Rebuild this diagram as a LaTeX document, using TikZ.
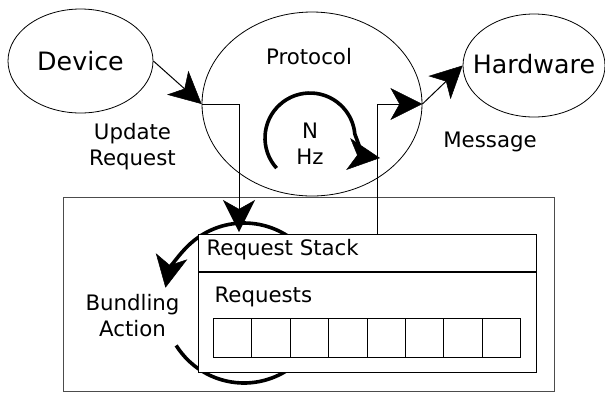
\documentclass[tikz,border=0pt]{standalone}
\usepackage{fontspec}
\setmainfont{DejaVu Sans}
\usetikzlibrary{arrows.meta,shapes.geometric,calc}
\tikzset{
  bubble/.style={draw, ellipse, line width=0.8pt, inner sep=0pt},
  bigfont/.style={font=\fontsize{25.3}{30}\selectfont},
  smallfont/.style={font=\fontsize{21.3}{26}\selectfont, align=center},
  thinline/.style={line width=1pt},
  bigtip/.style={-{Stealth[length=32pt, width=32pt, inset=9pt, line width=0.5pt]}},
  thickarc/.style={line width=3.6pt},
  boxframe/.style={draw, line width=1.2pt, inner sep=0pt},
  cellbox/.style={draw, line width=1pt, minimum width=38.4pt, minimum height=39pt, inner sep=0pt, anchor=north west}
}
\begin{document}
\begin{tikzpicture}[x=1pt, y=-1pt]
\useasboundingbox (0,0) rectangle (605,392);
% outer frame
\node[boxframe, draw=black!70, minimum width=491pt, minimum height=194pt, anchor=north west] (frame) at (63,197) {};
% ellipses
\node[bubble, minimum width=145pt, minimum height=104pt] (Device) at (80.5,61) {};
\node[bigfont] (devicetext) at (80.5,61) {Device};
\node[bubble, minimum width=220pt, minimum height=184pt] (Protocol) at (312,104) {};
\node[smallfont] (protocoltext) at (309,57) {Protocol};
\node[bubble, minimum width=142pt, minimum height=103pt] (Hardware) at (534,65.5) {};
\node[bigfont] (hardwaretext) at (534,64) {Hardware};
% labels
\node[smallfont] (nhz) at (310,144) {N\\Hz};
\node[smallfont] (update) at (132.5,147) {Update\\Request};
\node[smallfont] (message) at (490,142) {Message};
\node[smallfont] (bundling) at (132.5,316) {Bundling\\Action};
% N Hz loop
\draw[thickarc, bigtip] (310,138) ++(138:45) arc (138:355:45) .. controls (360,148) and (364,156) .. (380,158);
% bundling loop
\draw[thickarc, bigtip] (244,303) ++(318:80) arc (318:191:80);
\draw[thickarc] (244,303) ++(148:80) arc (148:40:80);
% request stack
\node[boxframe, fill=white, minimum width=338pt, minimum height=138pt, anchor=north west] (stack) at (198,234) {};
\draw[line width=1.2pt] ($(stack.north west)+(0,38)$) -- ($(stack.north east)+(0,38)$);
\node[smallfont, anchor=west] (stacktitle) at (203,250) {Request Stack};
\node[smallfont, anchor=west] (requests) at (211,297) {Requests};
\foreach \i in {0,...,7} {
  \node[cellbox] (cell\i) at (213+38.4*\i,318) {};
}
% connectors
\coordinate (downtip) at (239,232);
\coordinate (stackout) at (377,234);
\draw[thinline, bigtip] (Device.east) -- (Protocol.west);
\draw[thinline, bigtip] (Protocol.west) -| (downtip);
\draw[thinline, bigtip] (stackout) |- (Protocol.east);
\draw[thinline, bigtip] (Protocol.east) -- (Hardware.west);
\end{tikzpicture}
\end{document}
